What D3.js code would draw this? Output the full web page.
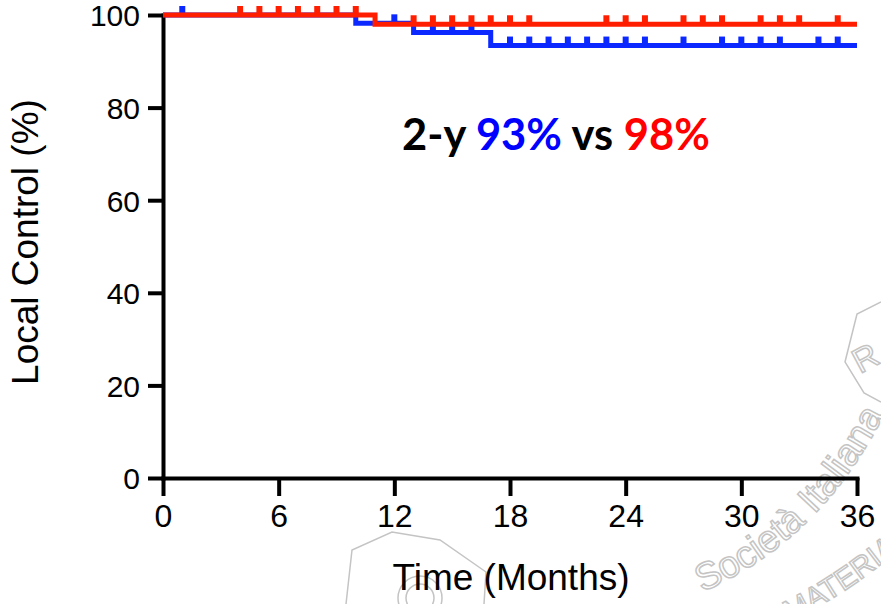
<!DOCTYPE html>
<html>
<head>
<meta charset="utf-8">
<script src="https://cdn.jsdelivr.net/npm/d3@7"></script>
<style>
  body { margin: 0; background: #fff; }
  svg text { font-family: "Liberation Sans", Arial, sans-serif; }
</style>
</head>
<body>
<svg id="chart" width="881" height="604"></svg>
<script>
// Kaplan-Meier steps
const blueTimes = [0, 10, 13, 17, 36];
const blueSurv = [100, 98.2, 96.2, 93.4, 93.4];
const redTimes = [0, 11, 36];
const redSurv = [100, 98, 98];

// censored observations (months)
const blueCensor = [1, 12, 14, 15, 16, 18, 19, 20, 21, 22, 23, 24, 25, 27, 29, 30, 31, 32, 34, 35];
const redCensor = [4, 5, 6, 7, 8, 9, 10, 13, 14, 15, 16, 17, 18, 19, 23, 24, 25, 27, 28, 29, 31, 32, 33, 35];

const xTicks = [0, 6, 12, 18, 24, 30, 36];
const yTicks = [0, 20, 40, 60, 80, 100];

const blueColor = "#0a28ff";
const redColor = "#ff1e00";

const svg = d3.select("#chart");

const x = d3.scaleLinear().domain([0, 36]).range([163, 857]);
const y = d3.scaleLinear().domain([0, 100]).range([478, 15]);

drawWatermark();

// axes
const yAxis = svg.append("g").attr("transform", "translate(163,0)")
    .call(d3.axisLeft(y).tickValues(yTicks).tickSize(15).tickSizeOuter(0).tickPadding(8));
yAxis.selectAll("text").style("font-size", "30px").attr("dy", "0.36em");

const xAxis = svg.append("g").attr("transform", "translate(0,478)")
    .call(d3.axisBottom(x).tickValues(xTicks).tickSize(18).tickSizeOuter(0).tickPadding(8));
xAxis.selectAll("text").style("font-size", "32px");

svg.selectAll(".domain").attr("stroke", "#000").attr("stroke-width", 4).attr("stroke-linecap", "square");
svg.selectAll(".tick line").attr("stroke", "#000").attr("stroke-width", 4);
svg.selectAll(".tick text").attr("fill", "#000");

svg.append("text")
    .attr("transform", "translate(38,242) rotate(-90)")
    .attr("text-anchor", "middle")
    .style("font-size", "37px")
    .text("Local Control (%)");

svg.append("text")
    .attr("x", 511).attr("y", 590)
    .attr("text-anchor", "middle")
    .style("font-size", "37px")
    .text("Time (Months)");

// curves: blue first, red on top
drawCurve(blueTimes, blueSurv, blueCensor, blueColor);
drawCurve(redTimes, redSurv, redCensor, redColor);

// annotation
const note = svg.append("text")
    .attr("x", 402).attr("y", 150)
    .style("font-family", "Lato, 'Open Sans', sans-serif")
    .style("font-weight", "bold")
    .style("font-size", "43.5px");
note.append("tspan").attr("fill", "#000").text("2-y ");
note.append("tspan").attr("fill", "#0000ff").text("93%");
note.append("tspan").attr("fill", "#000").text(" vs ");
note.append("tspan").attr("fill", "#ff0000").text("98%");

function survivalAt(times, surv, t) {
    let s = surv[0];
    for (let i = 0; i < times.length; i++) {
        if (times[i] <= t) s = surv[i];
    }
    return s;
}

function drawCurve(times, surv, censor, color) {
    const pts = times.map((t, i) => [t, surv[i]]);
    const line = d3.line().x(d => x(d[0])).y(d => y(d[1])).curve(d3.curveStepAfter);

    svg.append("path")
        .datum(pts)
        .attr("d", line)
        .attr("fill", "none")
        .attr("stroke", color)
        .attr("stroke-width", 5);

    svg.append("g").selectAll("line")
        .data(censor)
        .join("line")
        .attr("x1", d => x(d)).attr("x2", d => x(d))
        .attr("y1", d => y(survivalAt(times, surv, d)))
        .attr("y2", d => y(survivalAt(times, surv, d)) - 9)
        .attr("stroke", color)
        .attr("stroke-width", 6);
}

// faint publisher stamp in the corner
function drawWatermark() {
    const wm = svg.append("g").attr("fill", "none").attr("stroke", "#c4c4c4").attr("stroke-width", 1.5);

    wm.append("path").attr("d", "M 881 302 L 857 314 L 845 362 L 864 393 L 881 402");
    wm.append("text")
        .attr("transform", "translate(860,374) rotate(-28)")
        .style("font-size", "34px").text("R");

    wm.append("path").attr("id", "arcA").attr("stroke", "none").attr("d", "M 702 592 Q 835 535 900 380");
    wm.append("text")
        .style("font-size", "38px")
        .append("textPath").attr("href", "#arcA")
        .text("Società Italiana");

    wm.append("path").attr("id", "arcB").attr("stroke", "none").attr("d", "M 790 622 Q 850 592 905 545");
    wm.append("text")
        .style("font-size", "30px")
        .append("textPath").attr("href", "#arcB")
        .text("MATERIA");

    wm.append("path").attr("d", "M 346 604 L 352 550 L 392 532 L 440 540 L 486 572 L 484 604");
    wm.append("circle").attr("cx", 420).attr("cy", 598).attr("r", 22);
    wm.append("circle").attr("cx", 420).attr("cy", 598).attr("r", 14);
}
</script>
</body>
</html>
